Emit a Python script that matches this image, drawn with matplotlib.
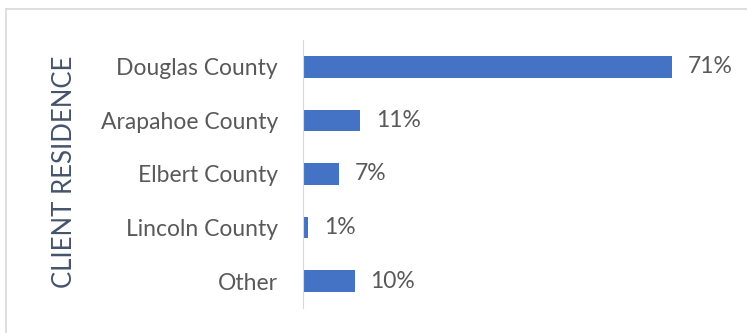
import matplotlib.pyplot as plt
from matplotlib.lines import Line2D

counties = ["Douglas County", "Arapahoe County", "Elbert County", "Lincoln County", "Other"]
shares = [71, 11, 7, 1, 10]
labels = ["71%", "11%", "7%", "1%", "10%"]

W, H = 747, 333
fig = plt.figure(figsize=(W / 100, H / 100), dpi=100)
plt.rcParams['font.family'] = ['Lato', 'DejaVu Sans']

# axes placed in pixel terms: left edge at x=303, spanning y=40..308
left, right = 303, 740
top, bottom = 40, 308
ax = fig.add_axes([left / W, 1 - bottom / H, (right - left) / W, (bottom - top) / H])

y = list(range(len(counties)))
ax.barh(y, shares, height=0.4, color='#4472C4')
ax.set_ylim(4.5, -0.5)
ax.set_xlim(0, (right - left) / 5.2)

for i, v in enumerate(shares):
    ax.text(v + 3.0, i, labels[i], va='center', ha='left', fontsize=16.5, color='#595959')

ax.set_yticks(y)
ax.set_yticklabels(counties, fontsize=16.5, color='#595959')
ax.tick_params(axis='y', length=0, pad=18)
ax.set_xticks([])
for s in ['top', 'right', 'bottom']:
    ax.spines[s].set_visible(False)
ax.spines['left'].set_color('#D9D9D9')

fig.text(64 / W, 1 - 172 / H, "CLIENT RESIDENCE", rotation=90, ha='center', va='center',
         fontsize=18.5, color='#44546A')

# light frame around the chart area
fig.add_artist(Line2D([6 / W, 6 / W], [0, 1 - 9 / H], color='#D9D9D9', lw=1.2))
fig.add_artist(Line2D([6 / W, 1], [1 - 9 / H, 1 - 9 / H], color='#D9D9D9', lw=1.2))

fig.savefig('out.png', dpi=100)
